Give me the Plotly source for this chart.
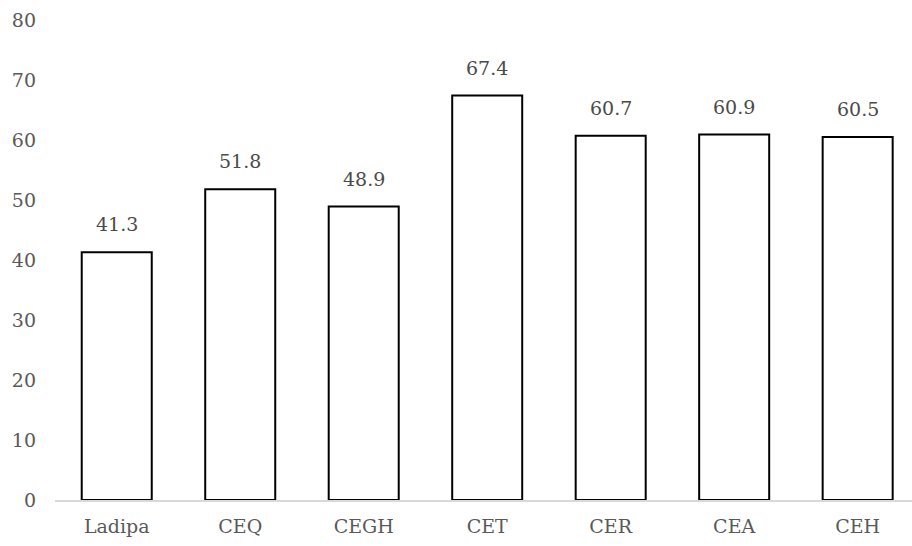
import plotly.graph_objects as go

categories = ["Ladipa", "CEQ", "CEGH", "CET", "CER", "CEA", "CEH"]
values = [41.3, 51.8, 48.9, 67.4, 60.7, 60.9, 60.5]
y_ticks = [0, 10, 20, 30, 40, 50, 60, 70, 80]

FONT = "DejaVu Serif"

fig = go.Figure(
    go.Bar(
        x=categories,
        y=values,
        width=0.567,
        marker=dict(color="white", line=dict(color="black", width=2)),
        hoverinfo="skip",
    )
)

# value labels above each bar
for c, v in zip(categories, values):
    fig.add_annotation(
        x=c, y=v, text=f"{v}", showarrow=False,
        yanchor="middle", yshift=28,
        font=dict(family=FONT, size=19, color="#4a4a4a"),
    )

fig.update_layout(
    width=912, height=546,
    margin=dict(l=55, r=0, t=20, b=46),
    paper_bgcolor="white", plot_bgcolor="white",
    showlegend=False,
    font=dict(family=FONT, size=19, color="#595959"),
    xaxis=dict(
        type="category", range=[-0.5, 6.44],
        showline=True, linecolor="#d9d9d9", linewidth=2,
        showgrid=False, ticks="", ticklabelstandoff=8,
        tickfont=dict(family=FONT, size=19, color="#595959"),
    ),
    yaxis=dict(
        range=[0, 80], tickvals=y_ticks,
        showgrid=False, zeroline=False, showline=False, ticks="",
        ticklabelstandoff=18,
        tickfont=dict(family=FONT, size=19, color="#595959"),
    ),
)

fig.write_html("out.html")
